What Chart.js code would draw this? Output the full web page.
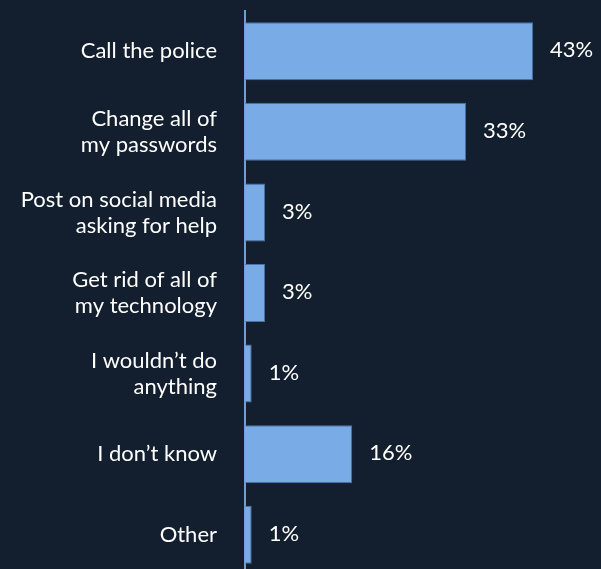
<!DOCTYPE html>
<html>
<head>
<meta charset="utf-8">
<script src="https://cdn.jsdelivr.net/npm/chart.js@4.4.0/dist/chart.umd.min.js"></script>
<style>
html,body{margin:0;padding:0;background:#131f2e;overflow:hidden;}
#wrap{width:601px;height:575px;position:relative;}
</style>
</head>
<body>
<div id="wrap"><canvas id="c"></canvas></div>
<script>
const categories = [
  ["Call the police"],
  ["Change all of", "my passwords"],
  ["Post on social media", "asking for help"],
  ["Get rid of all of", "my technology"],
  ["I wouldn\u2019t do", "anything"],
  ["I don\u2019t know"],
  ["Other"]
];
const values = [43, 33, 3, 3, 1, 16, 1];
const valueLabels = ["43%", "33%", "3%", "3%", "1%", "16%", "1%"];

const FONT = "Lato, 'Open Sans', sans-serif";

const valuePlugin = {
  id: 'valueLabels',
  afterDatasetsDraw(chart) {
    const ctx = chart.ctx;
    const meta = chart.getDatasetMeta(0);
    ctx.save();
    ctx.fillStyle = '#ffffff';
    ctx.font = '22px ' + FONT;
    ctx.textAlign = 'left';
    ctx.textBaseline = 'middle';
    meta.data.forEach((bar, i) => {
      ctx.fillText(valueLabels[i], bar.x + 17, bar.y - 1);
    });
    ctx.restore();
  }
};

new Chart(document.getElementById('c'), {
  type: 'bar',
  data: {
    labels: categories,
    datasets: [{
      data: values,
      backgroundColor: '#79ace6',
      borderColor: '#4d73a0',
      borderWidth: 1,
      borderSkipped: 'left',
      barPercentage: 0.72,
      categoryPercentage: 1.0
    }]
  },
  options: {
    indexAxis: 'y',
    responsive: true,
    maintainAspectRatio: false,
    animation: false,
    layout: { padding: { top: 11, right: 21, bottom: 0, left: 0 } },
    plugins: { legend: { display: false }, tooltip: { enabled: false } },
    scales: {
      x: {
        display: false,
        min: 0,
        max: 50,
        grid: { display: false }
      },
      y: {
        afterFit(scale) { scale.width = 245; scale.paddingTop = 0; scale.paddingBottom = 0; },
        grid: { display: false, drawTicks: false },
        border: { display: true, color: '#6f9fd6', width: 2 },
        ticks: {
          color: '#ffffff',
          padding: 28,
          font: { family: FONT, size: 22, lineHeight: 1.18 },
          crossAlign: 'near'
        }
      }
    }
  },
  plugins: [valuePlugin]
});
</script>
</body>
</html>
